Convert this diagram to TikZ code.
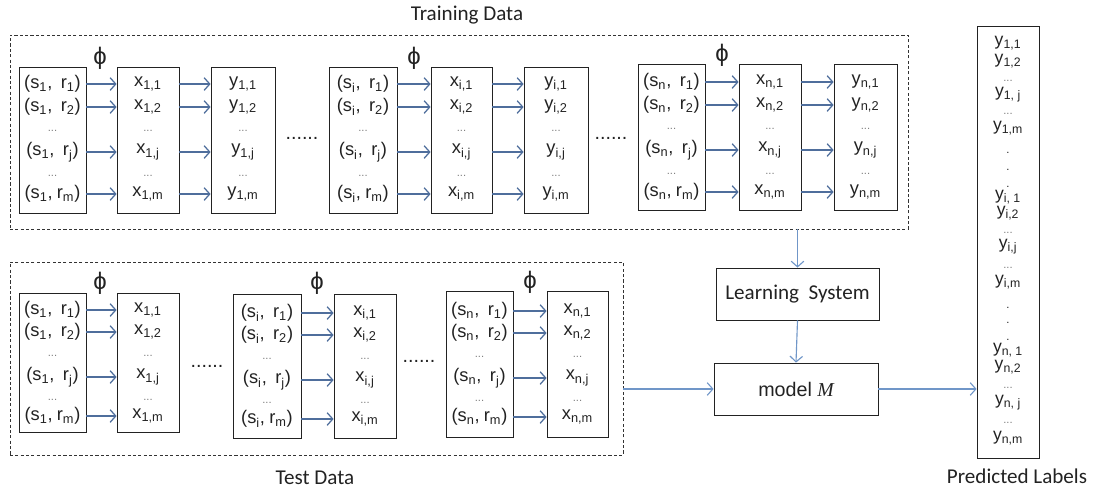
\documentclass[tikz,border=0pt]{standalone}
\usepackage{fontspec}
\setmainfont{Liberation Sans}
\newfontfamily\labelfont{Carlito}
\newfontfamily\modelfont{Liberation Serif}
\usetikzlibrary{arrows.meta,fit}

\definecolor{ink}{HTML}{222222}
\definecolor{rowblue}{HTML}{4F6E9C}
\definecolor{flowblue}{HTML}{7096C8}
\definecolor{dashgray}{HTML}{333333}
\newcommand{\sub}[1]{\textsubscript{#1}}
\newcommand{\tdots}{...}

\begin{document}
\begin{tikzpicture}[x=0.025cm,y=-0.025cm,
  colbox/.style={draw=ink,line width=0.6pt,inner sep=0pt},
  databox/.style={draw=dashgray,dash pattern=on 2.2pt off 1.6pt,line width=0.6pt,inner sep=0pt},
  entry/.style={text=ink,font=\fontsize{13}{15}\selectfont,inner sep=0pt},
  vdots/.style={text=gray,font=\fontsize{8}{9}\selectfont,inner sep=0pt,anchor=base},
  gapdots/.style={text=ink,font=\fontsize{14}{16}\selectfont,inner sep=0pt,anchor=base},
  phi/.style={text=ink,font=\fontsize{17}{19}\selectfont,inner sep=0pt},
  rowarr/.style={draw=rowblue,line width=0.9pt,-{Straight Barb[length=4pt,width=9pt]}},
  flowarr/.style={draw=flowblue,line width=0.8pt,-{Straight Barb[length=4pt,width=9pt]}},
  caption/.style={text=ink,font=\labelfont\fontsize{15}{17}\selectfont,inner sep=0pt},
  predentry/.style={text=ink,font=\fontsize{12.5}{14}\selectfont,inner sep=0pt}]

  \useasboundingbox (0,0) rectangle (1096,488);

  % training data
  \node[databox,fit={(10,35) (908,229)}] (train) {};
  \node[caption] (train-label) at (467,15) {Training Data};
  \foreach \n/\sa/\sb/\xa/\xb/\ya/\yb/\top/\bot/\o/\px/\py in
    {1/19/86/117/179/211/275/67/213/0/100/58,
     i/329/397/431/492/524/588/67/213/0/414/58,
     n/638/705/739/801/834/897/64/210/-2/722/55}{
    \node[colbox,fit={(\sa,\top) (\sb,\bot)}] (tr-s-\n) {};
    \node[colbox,fit={(\xa,\top) (\xb,\bot)}] (tr-x-\n) {};
    \node[colbox,fit={(\ya,\top) (\yb,\bot)}] (tr-y-\n) {};
    \node[phi] (tr-phi-\n) at (\px,\py) {ϕ};
    \foreach \r/\y/\sp in {1/84/6pt,2/107/6pt,j/152/6pt,m/194/3pt}{
      \node[entry] (tr-s-\n-\r) at (tr-s-\n |- 0,\y+\o) {(s\sub{\n},\hspace{\sp}r\sub{\r})};
      \node[entry] (tr-x-\n-\r) at (tr-x-\n |- 0,\y+\o) {x\sub{\n,\r}};
      \node[entry] (tr-y-\n-\r) at (tr-y-\n |- 0,\y+\o) {y\sub{\n,\r}};
      \draw[rowarr] (tr-s-\n.east |- tr-s-\n-\r) -- (tr-x-\n.west |- tr-s-\n-\r);
      \draw[rowarr] (tr-x-\n.east |- tr-x-\n-\r) -- (tr-y-\n.west |- tr-x-\n-\r);
    }
    \foreach \y [count=\k] in {130,175}{
      \node[vdots] (tr-s-\n-d\k) at (tr-s-\n |- 0,\y+\o+1) {\tdots};
      \node[vdots] (tr-x-\n-d\k) at (tr-x-\n |- 0,\y+\o+1) {\tdots};
      \node[vdots] (tr-y-\n-d\k) at (tr-y-\n |- 0,\y+\o+1) {\tdots};
    }
  }
  \node[gapdots] (tr-gap-1) at (302,139) {......};
  \node[gapdots] (tr-gap-2) at (611,139) {......};

  % test data
  \node[databox,fit={(10,262) (623,455)}] (test) {};
  \node[caption] (test-label) at (315,478) {Test Data};
  \foreach \n/\sa/\sb/\xa/\xb/\top/\bot/\o/\px/\py in
    {1/19/86/117/179/293/432/0/100/283,
     i/233/301/334/396/294/438/3/317/283,
     n/446/513/547/608/291/437/1/530/282}{
    \node[colbox,fit={(\sa,\top) (\sb,\bot)}] (te-s-\n) {};
    \node[colbox,fit={(\xa,\top) (\xb,\bot)}] (te-x-\n) {};
    \node[phi] (te-phi-\n) at (\px,\py) {ϕ};
    \foreach \r/\y/\sp in {1/310/6pt,2/332/6pt,j/377/6pt,m/416/3pt}{
      \node[entry] (te-s-\n-\r) at (te-s-\n |- 0,\y+\o) {(s\sub{\n},\hspace{\sp}r\sub{\r})};
      \node[entry] (te-x-\n-\r) at (te-x-\n |- 0,\y+\o) {x\sub{\n,\r}};
      \draw[rowarr] (te-s-\n.east |- te-s-\n-\r) -- (te-x-\n.west |- te-s-\n-\r);
    }
    \foreach \y [count=\k] in {355,399}{
      \node[vdots] (te-s-\n-d\k) at (te-s-\n |- 0,\y+\o+1) {\tdots};
      \node[vdots] (te-x-\n-d\k) at (te-x-\n |- 0,\y+\o+1) {\tdots};
    }
  }
  \node[gapdots] (te-gap-1) at (207,367) {......};
  \node[gapdots] (te-gap-2) at (419,362) {......};

  % learning and prediction
  \node[colbox,fit={(716,268) (879,320)}] (learn) {};
  \node[caption] (learn-label) at (learn) {Learning\ \ System};
  \node[colbox,fit={(714,363) (878,415)}] (model) {};
  \node[caption,font=\fontsize{14}{16}\selectfont] (model-label) at (model) {model {\modelfont\itshape M}};
  \node[colbox,fit={(977,26) (1039,458)}] (pred) {};
  \node[caption] (pred-label) at (1017,476) {Predicted Labels};

  \draw[flowarr] (train.south -| learn.north) -- (learn.north);
  \draw[flowarr] (learn.south) -- (model.north);
  \draw[flowarr] (test.east |- model) -- (model.west);
  \draw[flowarr] (model.east) -- (pred.west |- model);

  % predicted entries
  \foreach \t/\y [count=\k] in
    {{y\sub{1,1}}/43, {y\sub{1,2}}/61, {y\sub{1, j}}/95, {y\sub{1,m}}/128,
     {y\sub{i, 1}}/197, {y\sub{i,2}}/213, {y\sub{i,j}}/247, {y\sub{i,m}}/282,
     {y\sub{n, 1}}/350, {y\sub{n,2}}/367, {y\sub{n, j}}/403, {y\sub{n,m}}/438}{
    \node[predentry] (pred-\k) at (pred |- 0,\y) {\t};
  }
  \foreach \y [count=\k] in {81,114,233,268,388,423}
    \node[vdots] (pred-d\k) at (pred |- 0,\y) {\tdots};
  \foreach \y [count=\k] in {153,170,187,308,323,340}
    \node[vdots,text=ink] (pred-p\k) at (pred |- 0,\y) {.};
\end{tikzpicture}
\end{document}
